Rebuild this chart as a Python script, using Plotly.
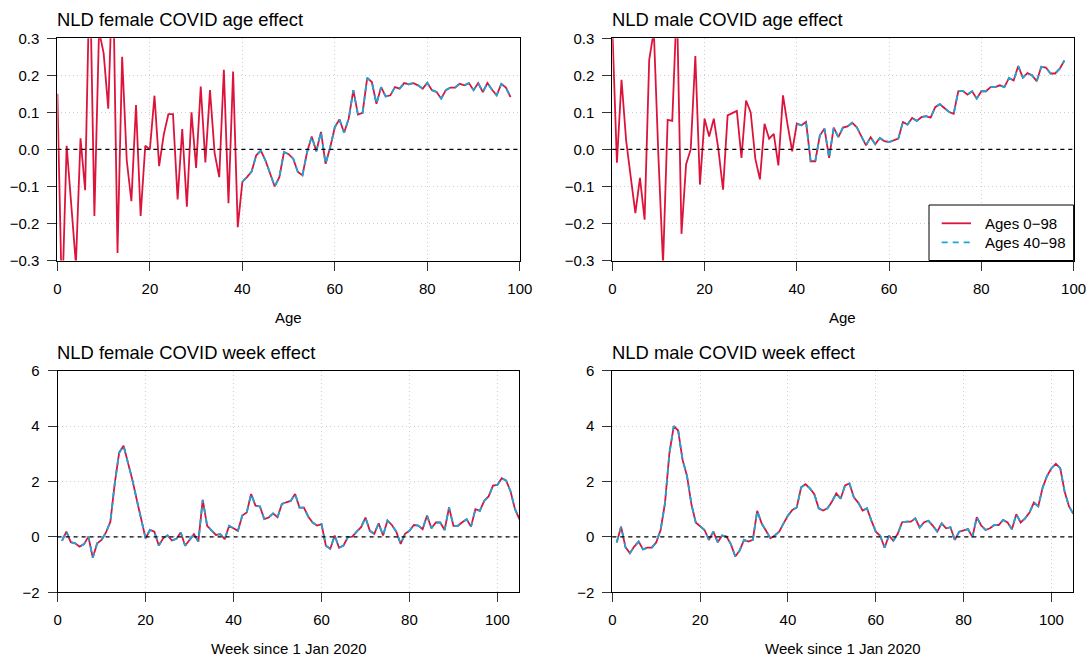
import plotly.graph_objects as go

# ---------------- data ----------------
ages = list(range(0, 99))
ages_40 = list(range(40, 99))
weeks = list(range(1, 106))

female_age_0_98 = [
    0.15, -0.42, 0.01, -0.145, -0.31, 0.03, -0.11, 0.50, -0.18, 0.32,
    0.26, 0.11, 0.50, -0.28, 0.25, -0.03, -0.14, 0.12, -0.18, 0.01,
    0.00, 0.145, -0.045, 0.04, 0.095, 0.095, -0.135, 0.055, -0.155, 0.10,
    -0.05, 0.17, -0.035, 0.16, -0.01, -0.075, 0.215, -0.145, 0.21, -0.21,
    -0.088, -0.075, -0.06, -0.016, -0.003, -0.03, -0.066, -0.10, -0.075, -0.007,
    -0.013, -0.025, -0.061, -0.07, -0.007, 0.035, -0.005, 0.047, -0.039, 0.006,
    0.06, 0.081, 0.045, 0.083, 0.16, 0.094, 0.099, 0.193, 0.182, 0.123,
    0.168, 0.143, 0.146, 0.168, 0.164, 0.179, 0.176, 0.179, 0.173, 0.164,
    0.18, 0.16, 0.155, 0.137, 0.16, 0.167, 0.167, 0.177, 0.173, 0.179,
    0.16, 0.179, 0.155, 0.179, 0.161, 0.146, 0.177, 0.167, 0.141,
]
female_age_40_98 = [
    -0.088, -0.075, -0.06, -0.016, -0.003, -0.03, -0.066, -0.10, -0.075, -0.007,
    -0.013, -0.025, -0.061, -0.07, -0.007, 0.035, -0.005, 0.047, -0.039, 0.006,
    0.06, 0.081, 0.045, 0.083, 0.16, 0.094, 0.099, 0.193, 0.182, 0.123,
    0.168, 0.143, 0.146, 0.168, 0.164, 0.179, 0.176, 0.179, 0.173, 0.164,
    0.18, 0.16, 0.155, 0.137, 0.16, 0.167, 0.167, 0.177, 0.173, 0.179,
    0.16, 0.179, 0.155, 0.179, 0.161, 0.146, 0.177, 0.167, 0.141,
]

male_age_0_98 = [
    0.33, -0.036, 0.188, 0.024, -0.075, -0.172, -0.077, -0.19, 0.242, 0.32,
    -0.02, -0.31, 0.08, 0.077, 0.40, -0.228, -0.04, 0.0, 0.252, -0.095,
    0.083, 0.035, 0.083, 0.0, -0.109, 0.092, 0.098, 0.104, -0.023, 0.132,
    0.10, -0.025, -0.081, 0.069, 0.029, 0.042, -0.043, 0.146, 0.066, -0.005,
    0.07, 0.065, 0.074, -0.032, -0.032, 0.038, 0.056, -0.023, 0.059, 0.033,
    0.059, 0.062, 0.072, 0.06, 0.035, 0.011, 0.033, 0.014, 0.031, 0.022,
    0.02, 0.024, 0.029, 0.074, 0.067, 0.085, 0.077, 0.087, 0.09, 0.086,
    0.114, 0.122, 0.112, 0.101, 0.096, 0.157, 0.158, 0.148, 0.157, 0.137,
    0.157, 0.157, 0.168, 0.168, 0.173, 0.168, 0.193, 0.186, 0.225, 0.194,
    0.206, 0.2, 0.184, 0.223, 0.221, 0.205, 0.205, 0.218, 0.24,
]
male_age_40_98 = [
    0.068, 0.065, 0.074, -0.032, -0.032, 0.038, 0.056, -0.023, 0.059, 0.033,
    0.059, 0.062, 0.072, 0.06, 0.035, 0.011, 0.033, 0.014, 0.031, 0.022,
    0.02, 0.024, 0.029, 0.074, 0.067, 0.085, 0.077, 0.087, 0.09, 0.086,
    0.114, 0.122, 0.112, 0.101, 0.096, 0.157, 0.158, 0.148, 0.157, 0.137,
    0.157, 0.157, 0.168, 0.168, 0.173, 0.168, 0.193, 0.186, 0.225, 0.194,
    0.206, 0.2, 0.184, 0.223, 0.221, 0.205, 0.205, 0.218, 0.24,
]

female_week_0_98 = [
    -0.14, 0.19, -0.19, -0.23, -0.35, -0.26, 0.01, -0.75, -0.23, -0.11,
    0.16, 0.55, 1.94, 3.04, 3.29, 2.72, 2.06, 1.34, 0.61, -0.05,
    0.25, 0.19, -0.31, -0.05, 0.05, -0.13, -0.07, 0.16, -0.32, -0.11,
    0.10, -0.17, 1.34, 0.40, 0.23, 0.07, 0.10, -0.08, 0.40, 0.31,
    0.22, 0.77, 0.88, 1.55, 1.13, 1.10, 0.64, 0.70, 0.85, 0.71,
    1.19, 1.25, 1.30, 1.55, 1.06, 1.06, 0.73, 0.52, 0.41, 0.46,
    -0.32, -0.43, 0.05, -0.39, -0.31, -0.01, 0.01, 0.19, 0.35, 0.70,
    0.22, 0.11, 0.49, 0.05, 0.59, 0.43, 0.19, -0.25, 0.11, 0.22,
    0.43, 0.41, 0.28, 0.77, 0.31, 0.52, 0.52, 0.25, 1.06, 0.40,
    0.40, 0.53, 0.64, 0.37, 1.00, 0.94, 1.30, 1.46, 1.85, 1.88,
    2.12, 2.03, 1.64, 1.00, 0.64,
]
female_week_40_98 = [
    -0.14, 0.19, -0.19, -0.23, -0.35, -0.26, 0.01, -0.75, -0.23, -0.11,
    0.16, 0.55, 1.94, 3.04, 3.29, 2.72, 2.06, 1.34, 0.61, -0.05,
    0.25, 0.19, -0.31, -0.05, 0.05, -0.13, -0.07, 0.16, -0.32, -0.11,
    0.10, -0.17, 1.34, 0.40, 0.23, 0.07, 0.10, -0.08, 0.40, 0.31,
    0.22, 0.77, 0.88, 1.55, 1.13, 1.10, 0.64, 0.70, 0.85, 0.71,
    1.19, 1.25, 1.30, 1.55, 1.06, 1.06, 0.73, 0.52, 0.41, 0.46,
    -0.32, -0.43, 0.05, -0.39, -0.31, -0.01, 0.01, 0.19, 0.35, 0.70,
    0.22, 0.11, 0.49, 0.05, 0.59, 0.43, 0.19, -0.25, 0.11, 0.22,
    0.43, 0.41, 0.28, 0.77, 0.31, 0.52, 0.52, 0.25, 1.06, 0.40,
    0.40, 0.53, 0.64, 0.37, 1.00, 0.94, 1.30, 1.46, 1.85, 1.88,
    2.12, 2.03, 1.64, 1.00, 0.64,
]

male_week_0_98 = [
    -0.20, 0.37, -0.37, -0.59, -0.35, -0.17, -0.45, -0.39, -0.39, -0.20,
    0.25, 1.22, 3.02, 4.00, 3.84, 2.78, 2.21, 1.19, 0.52, 0.40,
    0.25, -0.11, 0.19, -0.19, 0.05, 0.01, -0.26, -0.71, -0.49, -0.11,
    -0.17, -0.11, 0.94, 0.49, 0.23, -0.05, 0.05, 0.19, 0.49, 0.77,
    0.97, 1.06, 1.79, 1.90, 1.75, 1.54, 1.03, 0.95, 1.03, 1.27,
    1.57, 1.38, 1.86, 1.93, 1.43, 1.24, 0.95, 1.03, 0.59, 0.19,
    0.04, -0.39, 0.05, -0.14, 0.11, 0.53, 0.55, 0.55, 0.67, 0.34,
    0.53, 0.58, 0.40, 0.19, 0.49, 0.31, 0.35, -0.11, 0.19, 0.23,
    0.28, -0.01, 0.71, 0.41, 0.25, 0.31, 0.43, 0.43, 0.61, 0.52,
    0.28, 0.82, 0.52, 0.67, 0.88, 1.24, 1.10, 1.78, 2.20, 2.48,
    2.64, 2.48, 1.64, 1.10, 0.83,
]
male_week_40_98 = [
    -0.20, 0.37, -0.37, -0.59, -0.35, -0.17, -0.45, -0.39, -0.39, -0.20,
    0.25, 1.22, 3.02, 4.00, 3.84, 2.78, 2.21, 1.19, 0.52, 0.40,
    0.25, -0.11, 0.19, -0.19, 0.05, 0.01, -0.26, -0.71, -0.49, -0.11,
    -0.17, -0.11, 0.94, 0.49, 0.23, -0.05, 0.05, 0.19, 0.49, 0.77,
    0.97, 1.06, 1.79, 1.90, 1.75, 1.54, 1.03, 0.95, 1.03, 1.27,
    1.57, 1.38, 1.86, 1.93, 1.43, 1.24, 0.95, 1.03, 0.59, 0.19,
    0.04, -0.39, 0.05, -0.14, 0.11, 0.53, 0.55, 0.55, 0.67, 0.34,
    0.53, 0.58, 0.40, 0.19, 0.49, 0.31, 0.35, -0.11, 0.19, 0.23,
    0.28, -0.01, 0.71, 0.41, 0.25, 0.31, 0.43, 0.43, 0.61, 0.52,
    0.28, 0.82, 0.52, 0.67, 0.88, 1.24, 1.10, 1.78, 2.20, 2.48,
    2.64, 2.48, 1.64, 1.10, 0.83,
]

titles = ["NLD female COVID age effect", "NLD male COVID age effect",
          "NLD female COVID week effect", "NLD male COVID week effect"]
xlabels = ["Age", "Age", "Week since 1 Jan 2020", "Week since 1 Jan 2020"]
legend_names = ["Ages 0\u221298", "Ages 40\u221298"]

# ---------------- style ----------------
W, H = 1089, 659
FONT = "Liberation Sans, Arial, Helvetica, sans-serif"
RED = "#DC143C"
BLUE = "#1AA6D8"
BLUE_DASH = "6px,5px"

# panel pixel boxes: (left, right, top, bottom)
boxes = [
    (57.4, 519.8, 38.3, 260.5),
    (612.3, 1073.6, 38.3, 260.5),
    (57.6, 519.4, 370.7, 592.3),
    (612.3, 1073.4, 370.7, 592.3),
]


def px_x(p):
    return p / W


def px_y(p):
    return (H - p) / H


fig = go.Figure()

panels = [
    (ages, female_age_0_98, ages_40, female_age_40_98),
    (ages, male_age_0_98, ages_40, male_age_40_98),
    (weeks, female_week_0_98, weeks, female_week_40_98),
    (weeks, male_week_0_98, weeks, male_week_40_98),
]

for i, (x1, y1, x2, y2) in enumerate(panels):
    n = "" if i == 0 else str(i + 1)
    fig.add_trace(go.Scatter(x=x1, y=y1, mode="lines", name=legend_names[0],
                             line=dict(color=RED, width=1.8),
                             xaxis="x" + n, yaxis="y" + n, showlegend=False))
for i, (x1, y1, x2, y2) in enumerate(panels):
    n = "" if i == 0 else str(i + 1)
    fig.add_trace(go.Scatter(x=x2, y=y2, mode="lines", name=legend_names[1],
                             line=dict(color=BLUE, width=1.8, dash=BLUE_DASH),
                             xaxis="x" + n, yaxis="y" + n, showlegend=False))

axis_common = dict(
    showline=True, linecolor="black", linewidth=1, mirror=True,
    ticks="outside", ticklen=9, tickwidth=1, tickcolor="#333333",
    showgrid=True, gridcolor="#cfcfcf", gridwidth=1, griddash="1px,3px",
    zeroline=False, automargin=False,
    tickfont=dict(family=FONT, size=15, color="black"),
)

layout = dict(width=W, height=H, autosize=False,
              margin=dict(l=0, r=0, t=0, b=0, autoexpand=False),
              paper_bgcolor="white", plot_bgcolor="white",
              font=dict(family=FONT, color="black"), showlegend=False)

annotations = []
shapes = []
for i, (l, r, t, b) in enumerate(boxes):
    n = "" if i == 0 else str(i + 1)
    xd = [px_x(l), px_x(r)]
    yd = [px_y(b), px_y(t)]
    if i < 2:
        xr = [0, 100]
        yr = [-0.3, 0.3]
        ydt = 0.1
        yfmt = ".1f"
    else:
        xr = [0, 105]
        yr = [-2, 6]
        ydt = 2
        yfmt = "d"
    layout["xaxis" + n] = dict(axis_common, domain=xd, range=xr, tick0=0, dtick=20,
                               anchor="y" + n, ticklabelstandoff=5)
    layout["yaxis" + n] = dict(axis_common, domain=yd, range=yr, tick0=0, dtick=ydt,
                               tickformat=yfmt, anchor="x" + n, ticklabelstandoff=5)
    annotations.append(dict(text=titles[i], xref="paper", yref="paper",
                            x=px_x(l - 2.5), y=px_y(t - 18.5),
                            xanchor="left", yanchor="middle", showarrow=False,
                            font=dict(family=FONT, size=18.4, color="black")))
    annotations.append(dict(text=xlabels[i], xref="paper", yref="paper",
                            x=px_x((l + r) / 2), y=px_y(b + 56.5),
                            xanchor="center", yanchor="middle", showarrow=False,
                            font=dict(family=FONT, size=15, color="black")))
    shapes.append(dict(type="line", xref="x" + n + " domain", yref="y" + n,
                       x0=0, x1=1, y0=0, y1=0,
                       line=dict(color="black", width=1.1, dash="4px,4px")))

# ---- manual legend in the top-right panel ----
leg_l, leg_r, leg_t, leg_b = 929.0, 1073.6, 205.0, 260.5
shapes.append(dict(type="rect", xref="paper", yref="paper",
                   x0=px_x(leg_l), x1=px_x(leg_r), y0=px_y(leg_b), y1=px_y(leg_t),
                   line=dict(color="black", width=1), fillcolor="white", layer="above"))
rows = [(223.3, RED, "solid"), (242.3, BLUE, BLUE_DASH)]
for (ry, col, dsh), name in zip(rows, legend_names):
    shapes.append(dict(type="line", xref="paper", yref="paper",
                       x0=px_x(941.7), x1=px_x(971.0), y0=px_y(ry), y1=px_y(ry),
                       line=dict(color=col, width=1.8, dash=dsh), layer="above"))
    annotations.append(dict(text=name, xref="paper", yref="paper",
                            x=px_x(982.5), y=px_y(ry),
                            xanchor="left", yanchor="middle", showarrow=False,
                            font=dict(family=FONT, size=15, color="black")))

layout["annotations"] = annotations
layout["shapes"] = shapes

fig.update_layout(**layout)
fig.write_html("out.html")
